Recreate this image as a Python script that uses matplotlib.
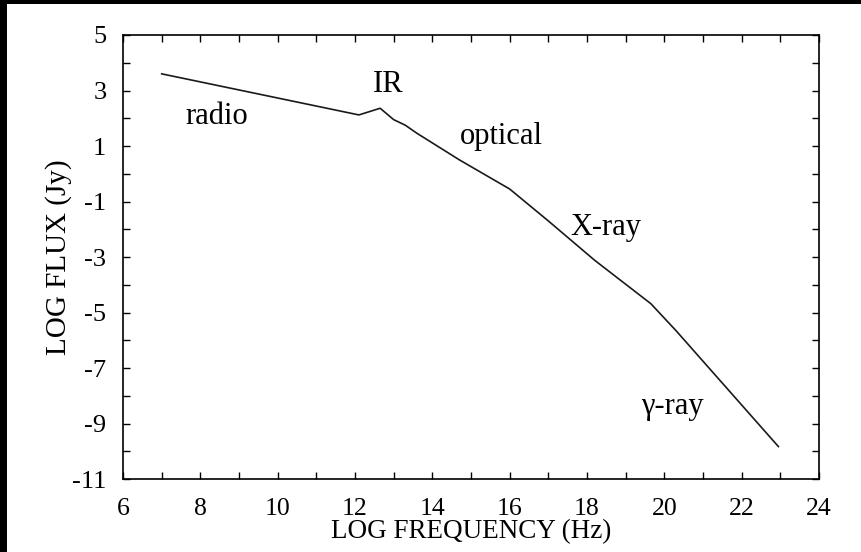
import matplotlib
matplotlib.use("Agg")
from matplotlib import pyplot as plt
from matplotlib.ticker import MultipleLocator
from matplotlib.patches import Rectangle

# spectrum
log_freq = [7.0, 12.1, 12.65, 13.0, 13.3, 13.6, 14.7, 16.0, 17.0, 18.2, 19.65, 20.3, 22.95]
log_flux = [3.6, 2.12, 2.36, 1.95, 1.75, 1.46, 0.5, -0.55, -1.7, -3.12, -4.68, -5.65, -9.83]

band_names = ["radio", "IR", "optical", "X-ray", "γ-ray"]
band_x = [8.43, 12.85, 15.78, 18.49, 20.2]
band_y = [2.05, 3.2, 1.35, -1.95, -8.4]

plt.rcParams['font.family'] = ['Liberation Serif', 'DejaVu Serif']
plt.rcParams['axes.unicode_minus'] = False

fig = plt.figure(figsize=(8.61, 5.52), dpi=100, facecolor='white')
ax = fig.add_axes([0.1429, 0.1322, 0.9512 - 0.1429, 0.9366 - 0.1322])

ax.plot(log_freq, log_flux, color='#1a1a1a', lw=1.2)

for name, x, y in zip(band_names, band_x, band_y):
    ax.text(x, y, name, fontsize=22, ha='center', va='center')

ax.set_xlim(6, 24)
ax.set_ylim(-11, 5)
ax.xaxis.set_major_locator(MultipleLocator(2))
ax.xaxis.set_minor_locator(MultipleLocator(1))
ax.set_yticks(range(-11, 6, 2))
ax.yaxis.set_minor_locator(MultipleLocator(1))
ax.tick_params(which='both', direction='in', top=True, right=True, length=5, width=1.0)
ax.tick_params(axis='x', which='major', labelsize=18.5, pad=14)
ax.tick_params(axis='y', which='major', labelsize=19, pad=12)
for s in ax.spines.values():
    s.set_linewidth(1.2)

ax.set_xlabel("LOG FREQUENCY (Hz)", fontsize=19.5, labelpad=-1)
ax.set_ylabel("LOG FLUX (Jy)", fontsize=21, labelpad=0)

# black scan edges at top and left
fig.add_artist(Rectangle((0, 0), 7 / 861, 1, transform=fig.transFigure,
                         facecolor='black', edgecolor='none', zorder=10))
fig.add_artist(Rectangle((0, 1 - 4 / 552), 1, 4 / 552, transform=fig.transFigure,
                         facecolor='black', edgecolor='none', zorder=10))

plt.savefig("out.png", dpi=100, facecolor='white')
